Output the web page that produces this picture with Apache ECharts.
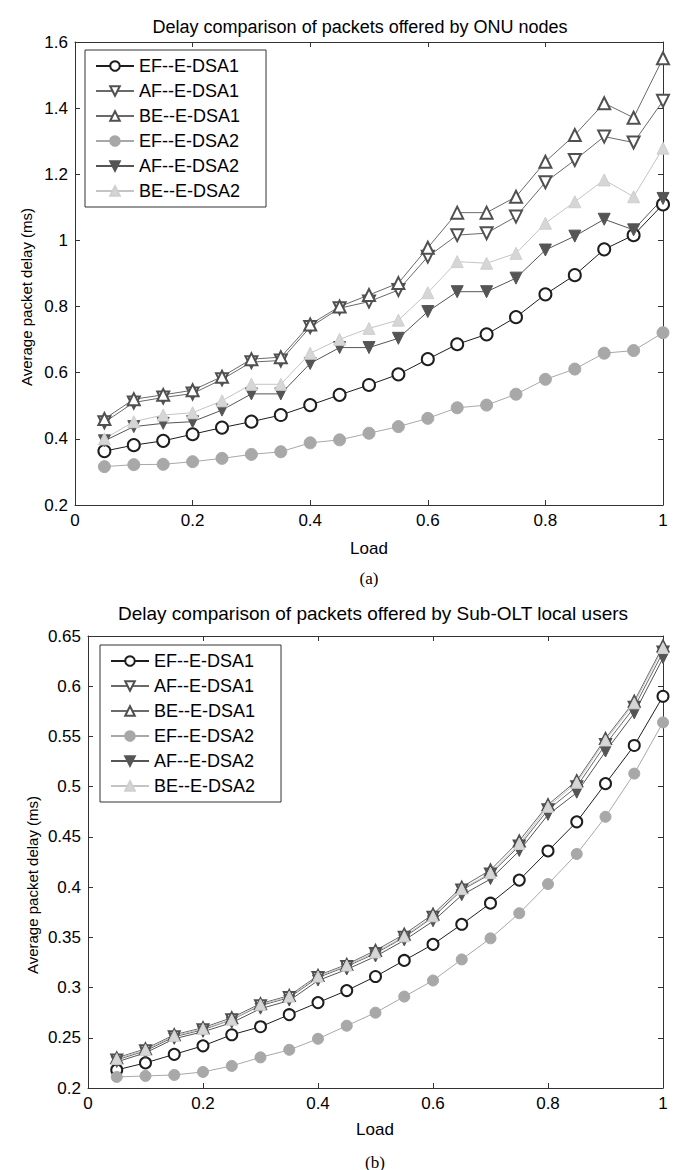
<!DOCTYPE html>
<html>
<head>
<meta charset="utf-8">
<script src="https://cdn.jsdelivr.net/npm/echarts@6/dist/echarts.min.js"></script>
<style>
html,body{margin:0;padding:0;background:#fff;}
#c{width:678px;height:1170px;}
</style>
</head>
<body>
<div id="c"></div>
<script>
// ---- data ----
const loads = [0.05,0.1,0.15,0.2,0.25,0.3,0.35,0.4,0.45,0.5,0.55,0.6,0.65,0.7,0.75,0.8,0.85,0.9,0.95,1.0];
const seriesNames = ['EF--E-DSA1','AF--E-DSA1','BE--E-DSA1','EF--E-DSA2','AF--E-DSA2','BE--E-DSA2'];

// (a) ONU nodes
const onuEF1 = [0.363,0.381,0.394,0.414,0.434,0.452,0.472,0.502,0.533,0.563,0.595,0.641,0.686,0.716,0.768,0.837,0.895,0.973,1.016,1.109];
const onuAF1 = [0.450,0.510,0.525,0.537,0.580,0.632,0.637,0.738,0.795,0.815,0.850,0.951,1.016,1.022,1.072,1.176,1.243,1.314,1.296,1.422];
const onuBE1 = [0.460,0.520,0.533,0.547,0.588,0.641,0.647,0.746,0.800,0.835,0.871,0.978,1.084,1.084,1.132,1.238,1.319,1.415,1.371,1.551];
const onuEF2 = [0.316,0.322,0.323,0.331,0.341,0.353,0.361,0.388,0.397,0.417,0.437,0.462,0.494,0.502,0.535,0.580,0.611,0.659,0.667,0.721];
const onuAF2 = [0.394,0.437,0.447,0.452,0.487,0.536,0.536,0.628,0.676,0.676,0.704,0.785,0.845,0.845,0.886,0.971,1.013,1.064,1.032,1.127];
const onuBE2 = [0.400,0.452,0.472,0.479,0.515,0.565,0.565,0.659,0.701,0.734,0.759,0.842,0.936,0.931,0.961,1.052,1.117,1.183,1.132,1.279];

// (b) Sub-OLT local users
const subEF1 = [0.218,0.225,0.2335,0.242,0.253,0.261,0.273,0.285,0.297,0.311,0.327,0.343,0.363,0.384,0.407,0.436,0.465,0.503,0.541,0.590];
const subAF1 = [0.228,0.237,0.251,0.258,0.268,0.282,0.290,0.310,0.321,0.334,0.350,0.370,0.397,0.413,0.441,0.477,0.500,0.542,0.579,0.634];
const subBE1 = [0.230,0.239,0.253,0.260,0.270,0.284,0.292,0.312,0.323,0.337,0.353,0.373,0.400,0.417,0.446,0.482,0.506,0.548,0.585,0.640];
const subEF2 = [0.211,0.212,0.213,0.216,0.222,0.2305,0.238,0.249,0.262,0.275,0.291,0.307,0.328,0.349,0.374,0.403,0.433,0.470,0.513,0.564];
const subAF2 = [0.226,0.235,0.249,0.256,0.265,0.279,0.287,0.307,0.318,0.331,0.347,0.366,0.392,0.408,0.436,0.472,0.494,0.535,0.573,0.628];
const subBE2 = [0.229,0.238,0.252,0.259,0.268,0.283,0.291,0.311,0.322,0.335,0.351,0.371,0.398,0.414,0.443,0.480,0.504,0.546,0.583,0.638];

const titleA = 'Delay comparison of packets offered by ONU nodes';
const titleB = 'Delay comparison of packets offered by Sub-OLT local users';
const xName = 'Load';
const yName = 'Average packet delay (ms)';

// ---- styles ----
const styles = [
  {symbol:'emptyCircle',   rot:0,   line:'#1e1e1e', mark:'#1e1e1e', fill:null},
  {symbol:'emptyTriangle', rot:180, line:'#6a6a6a', mark:'#505050', fill:null},
  {symbol:'emptyTriangle', rot:0,   line:'#6a6a6a', mark:'#505050', fill:null},
  {symbol:'circle',        rot:0,   line:'#a8a8a8', mark:'#a8a8a8', fill:'#a8a8a8'},
  {symbol:'triangle',      rot:180, line:'#555555', mark:'#555555', fill:'#555555'},
  {symbol:'triangle',      rot:0,   line:'#c4c4c4', mark:'#cfcfcf', fill:'#d6d6d6'}
];

const FONT = '"Liberation Sans", Arial, Helvetica, sans-serif';

function mkSeries(name, vals, gi, st, size){
  const itemStyle = st.fill
    ? {color: st.fill, borderColor: st.mark, borderWidth:1}
    : {color: st.mark, borderColor: st.mark, borderWidth:0.9};
  return {
    name: name, type:'line', xAxisIndex: gi*2, yAxisIndex: gi*2,
    data: loads.map((x,i)=>[x, vals[i]]),
    symbol: st.symbol, symbolRotate: st.rot, symbolSize: size,
    lineStyle:{color: st.line, width:1},
    itemStyle: itemStyle,
    emphasis:{disabled:true}, animation:false, z: 2
  };
}

const topSets = [onuEF1,onuAF1,onuBE1,onuEF2,onuAF2,onuBE2];
const botSets = [subEF1,subAF1,subBE1,subEF2,subAF2,subBE2];
const series = [];
topSets.forEach((d,i)=>series.push(mkSeries(seriesNames[i], d, 0, styles[i], 12)));
botSets.forEach((d,i)=>series.push(mkSeries(seriesNames[i], d, 1, styles[i], 11)));

function xAx(gi, pos, show){
  return {type:'value', gridIndex:gi, position:pos, min:0, max:1, interval:0.2,
    axisLine:{show:true, onZero:false, lineStyle:{color:'#333', width:1}},
    axisTick:{show:true, inside:true, length:5, lineStyle:{color:'#333'}},
    axisLabel:{show:show, color:'#000', fontSize:17, fontFamily:FONT, margin:7},
    splitLine:{show:false}};
}
function yAx(gi, pos, show, mn, mx, iv){
  return {type:'value', gridIndex:gi, position:pos, min:mn, max:mx, interval:iv,
    axisLine:{show:true, onZero:false, lineStyle:{color:'#333', width:1}},
    axisTick:{show:true, inside:true, length:5, lineStyle:{color:'#333'}},
    axisLabel:{show:show, color:'#000', fontSize:17, fontFamily:FONT, margin:7},
    splitLine:{show:false}};
}

function legend(left, top){
  return {orient:'vertical', left:left, top:top, data:seriesNames,
    itemWidth:38, itemHeight:12, itemGap:7,
    padding:[7,26,7,10], borderColor:'#333', borderWidth:1, backgroundColor:'#fff',
    textStyle:{fontSize:18, color:'#000', fontFamily:FONT}, selectedMode:false};
}

function txt(text, x, y, font, rot){
  return {type:'text', x:x, y:y, rotation: rot||0, silent:true,
    style:{text:text, font:font, fill:'#000', textAlign:'center', textVerticalAlign:'middle'}};
}

const option = {
  backgroundColor:'#fff',
  animation:false,
  grid:[
    {left:75, top:42, width:588, height:463},
    {left:88, top:636, width:575, height:452}
  ],
  xAxis:[xAx(0,'bottom',true), xAx(0,'top',false), xAx(1,'bottom',true), xAx(1,'top',false)],
  yAxis:[yAx(0,'left',true,0.2,1.6,0.2), yAx(0,'right',false,0.2,1.6,0.2),
         yAx(1,'left',true,0.2,0.65,0.05), yAx(1,'right',false,0.2,0.65,0.05)],
  legend:[legend(85,50), legend(100,645)],
  graphic:[
    txt(titleA, 360, 27, '18px '+FONT),
    txt(titleB, 373, 613, '19px '+FONT),
    txt(xName, 369, 548, '17px '+FONT),
    txt(xName, 375, 1129, '17px '+FONT),
    txt(yName, 26, 297, '15px '+FONT, Math.PI/2),
    txt(yName, 32, 885, '15px '+FONT, Math.PI/2),
    txt('(a)', 369, 578, '17px "Liberation Serif", "Times New Roman", serif'),
    txt('(b)', 375, 1162, '17px "Liberation Serif", "Times New Roman", serif')
  ],
  series: series
};

const chart = echarts.init(document.getElementById('c'), null, {renderer:'svg'});
chart.setOption(option);
</script>
</body>
</html>
